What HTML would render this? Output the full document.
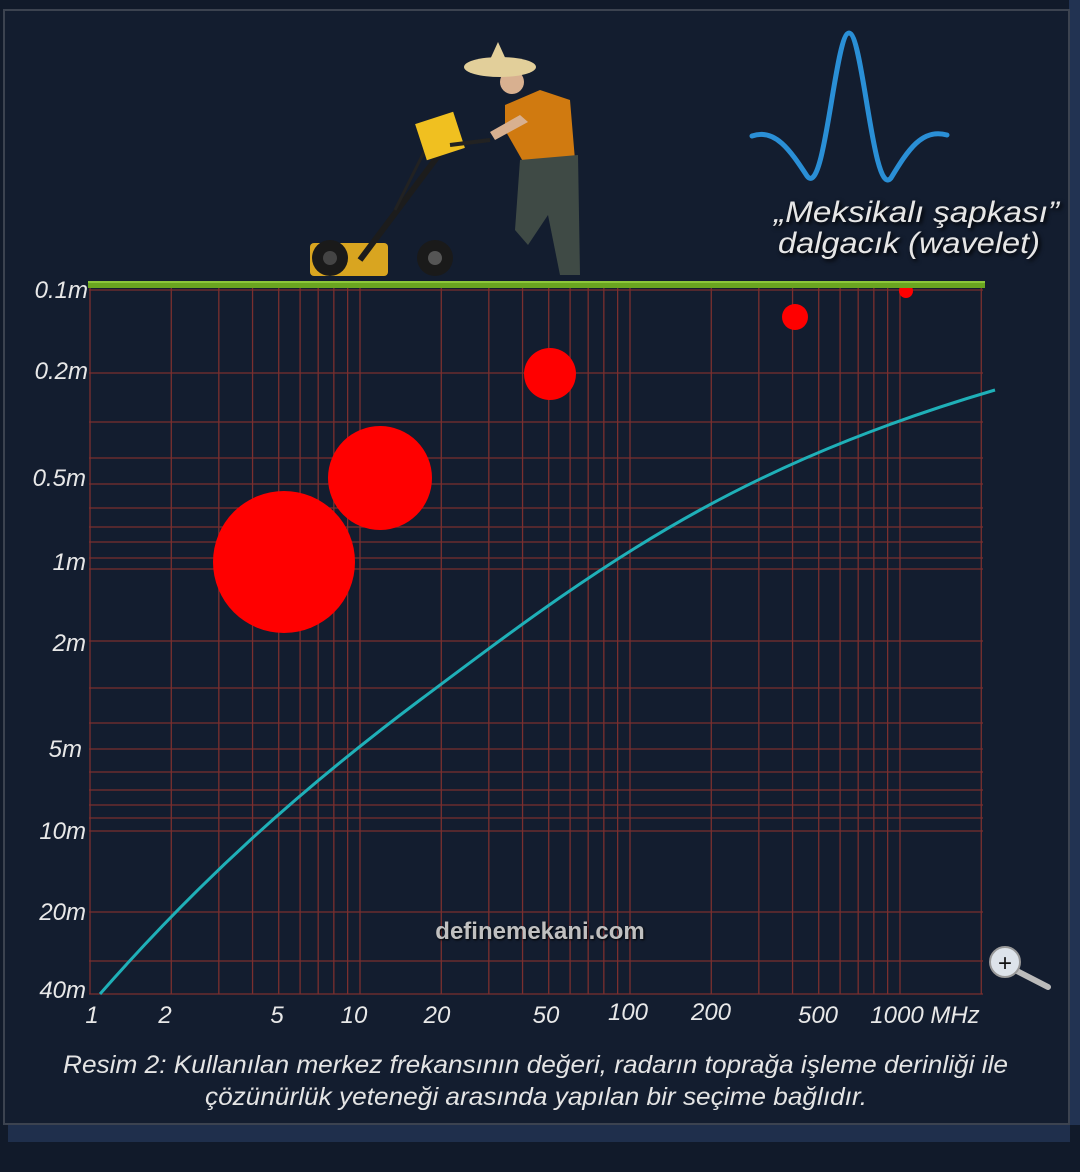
<!DOCTYPE html>
<html><head><meta charset="utf-8"><style>
html,body{margin:0;padding:0;background:#111a2a;}
svg{display:block}
</style></head><body>
<svg id="s" width="1080" height="1172" viewBox="0 0 1080 1172" xmlns="http://www.w3.org/2000/svg" font-family="Liberation Sans, sans-serif">
<rect width="1080" height="1172" fill="#111a2a"/>
<rect x="1069" y="0" width="11" height="1125" fill="#223352"/>
<rect x="8" y="1124" width="1062" height="18" fill="#1f2f4c"/>
<rect x="4" y="10" width="1065" height="1114" fill="#131d2f" stroke="#3c4350" stroke-width="2"/>
<g id="grid" stroke="#7a2f2f" stroke-width="1.3"></g>
<path d="M100,994 C200,880 300,790 420,700 C520,625 600,565 700,510 C800,455 900,418 995,390" fill="none" stroke="#1fb0b8" stroke-width="3"/>
<g fill="#ff0000">
<circle cx="284" cy="562" r="71"/>
<circle cx="380" cy="478" r="52"/>
<circle cx="550" cy="374" r="26"/>
<circle cx="795" cy="317" r="13"/>
<circle cx="906" cy="291" r="7"/>
</g>
<rect x="88" y="281" width="897" height="7" fill="#6aa520"/>
<rect x="88" y="281" width="897" height="2" fill="#8cc63a"/>
<g>
<rect x="310" y="243" width="78" height="33" rx="4" fill="#d9a520"/>
<circle cx="330" cy="258" r="18" fill="#1a1a1a"/><circle cx="330" cy="258" r="7" fill="#444"/>
<circle cx="435" cy="258" r="18" fill="#1a1a1a"/><circle cx="435" cy="258" r="7" fill="#555"/>
<line x1="360" y1="260" x2="450" y2="140" stroke="#1c1c1c" stroke-width="6"/>
<line x1="395" y1="210" x2="430" y2="140" stroke="#222" stroke-width="3"/>
<rect x="420" y="117" width="40" height="38" transform="rotate(-18 440 136)" fill="#f0c020"/>
<line x1="450" y1="145" x2="490" y2="140" stroke="#222" stroke-width="4"/>
<path d="M505,105 L540,90 L570,100 L575,160 L525,165 L505,130 Z" fill="#d07a10"/>
<path d="M520,160 L578,155 L580,275 L560,275 L548,215 L528,245 L515,230 Z" fill="#3f4a45"/>
<circle cx="512" cy="82" r="12" fill="#d8b090"/>
<ellipse cx="500" cy="67" rx="36" ry="10" fill="#e2cf9a"/>
<path d="M488,64 L498,42 L508,64 Z" fill="#e2cf9a"/>
<path d="M490,132 L520,115 L528,122 L495,140 Z" fill="#d8b090"/>
</g>
<path d="M752,136 C775,128 790,150 807,176 C825,200 835,33 849,33 C863,33 873,200 891,178 C908,150 922,128 947,135" fill="none" stroke="#2a8fd6" stroke-width="5" stroke-linecap="round"/>
<g fill="#e6e6e6" font-style="italic" font-size="30" style="filter:drop-shadow(2px 2px 2px #000)">
<text x="774" y="222" textLength="285" lengthAdjust="spacingAndGlyphs">„Meksikalı şapkası”</text>
<text x="778" y="253" textLength="262" lengthAdjust="spacingAndGlyphs">dalgacık (wavelet)</text>
</g>
<g fill="#e8e8e8" font-style="italic" font-size="24" text-anchor="end">
<text x="88" y="298">0.1m</text>
<text x="88" y="379">0.2m</text>
<text x="86" y="486">0.5m</text>
<text x="86" y="570">1m</text>
<text x="86" y="651">2m</text>
<text x="82" y="757">5m</text>
<text x="86" y="839">10m</text>
<text x="86" y="920">20m</text>
<text x="86" y="998">40m</text>
</g>
<g fill="#e8e8e8" font-style="italic" font-size="24" text-anchor="middle">
<text x="92" y="1023">1</text>
<text x="165" y="1023">2</text>
<text x="277" y="1023">5</text>
<text x="354" y="1023">10</text>
<text x="437" y="1023">20</text>
<text x="546" y="1023">50</text>
<text x="628" y="1020">100</text>
<text x="711" y="1020">200</text>
<text x="818" y="1023">500</text>
<text x="925" y="1023">1000 MHz</text>
</g>
<text x="540" y="939" fill="#c0c0c0" font-size="24" font-weight="bold" text-anchor="middle" style="filter:drop-shadow(1px 1px 1px #000)">definemekani.com</text>
<line x1="1015" y1="970" x2="1048" y2="987" stroke="#bbb" stroke-width="6" stroke-linecap="round"/>
<circle cx="1005" cy="962" r="15" fill="#dde3ea" stroke="#999" stroke-width="2"/>
<text x="1005" y="971" font-size="24" text-anchor="middle" fill="#111">+</text>
<g fill="#e4e4e4" font-style="italic" font-size="25">
<text x="63" y="1073" textLength="945" lengthAdjust="spacingAndGlyphs">Resim 2: Kullanılan merkez frekansının değeri, radarın toprağa işleme derinliği ile</text>
<text x="205" y="1105" textLength="662" lengthAdjust="spacingAndGlyphs">çözünürlük yeteneği arasında yapılan bir seçime bağlıdır.</text>
</g>
</svg>
<script>
var g=document.getElementById('grid'),ns='http://www.w3.org/2000/svg';
function L(x1,y1,x2,y2){var l=document.createElementNS(ns,'line');l.setAttribute('x1',x1);l.setAttribute('y1',y1);l.setAttribute('x2',x2);l.setAttribute('y2',y2);g.appendChild(l);}
var ys=[290,373,422,458,484,508,527,542,558,569,641,688,723,749,772,790,805,818,831,912,961,994];
ys.forEach(function(y){L(89,y,983,y);});
var fs=[];
for(var d=1;d<=100;d*=10)for(var k=1;k<10;k++)fs.push(k*d);
fs.push(1000,2000);
fs.forEach(function(f){var x=90+270*Math.log10(f);if(x>984)x=983;L(x,288,x,994);});
</script>
</body></html>
